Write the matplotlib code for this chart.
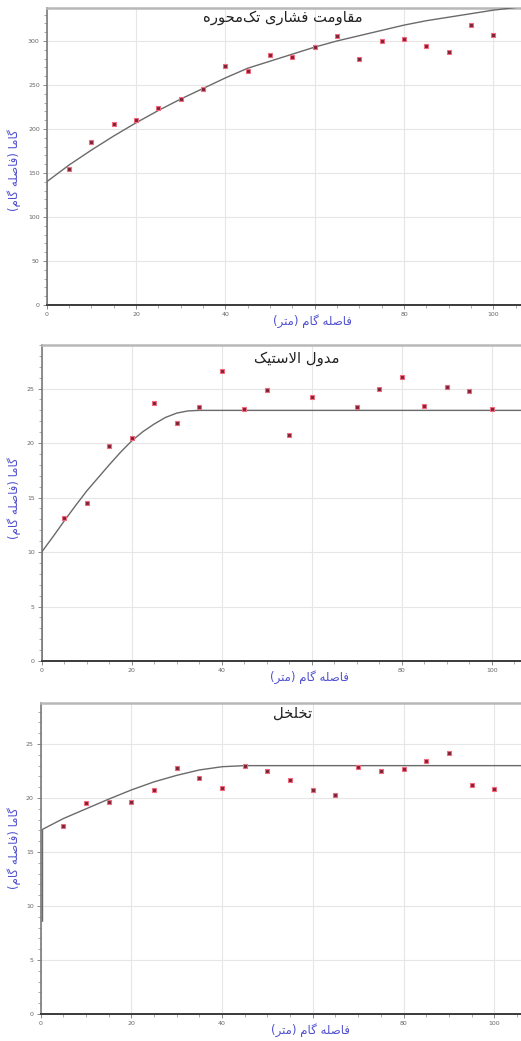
import numpy as np
import matplotlib
matplotlib.use("Agg")
from matplotlib import pyplot as plt
from matplotlib.ticker import MultipleLocator

# lag distances of the experimental points
lags = [5, 10, 15, 20, 25, 30, 35, 40, 45, 50, 55, 60, 65, 70, 75, 80, 85, 90, 95, 100]
xticks = [0, 20, 40, 60, 80, 100]
# the "60" label sits under the axis title in the original, so it is not shown
xticklabels = ["0", "20", "40", "", "80", "100"]

# uniaxial compressive strength
ucs_gamma = [154, 185, 206, 210, 224, 234, 245, 271, 266, 284, 282, 293, 306, 279,
             300, 302, 294, 287, 318, 307]
ucs_fit_x = [0, 0, 5, 10, 15, 20, 25, 30, 35, 40, 45, 50, 55, 60, 65, 70, 75, 80,
             85, 90, 95, 100, 105, 110]
ucs_fit_y = [0, 140, 159, 176, 192, 207, 221, 234, 246, 258, 269, 277, 285, 293, 300,
             306, 312, 318, 323, 327, 331, 335, 338, 341]

# elastic modulus (no point at lag 65)
em_lags = [5, 10, 15, 20, 25, 30, 35, 40, 45, 50, 55, 60, 70, 75, 80, 85, 90, 95, 100]
em_gamma = [13.1, 14.5, 19.7, 20.5, 23.7, 21.8, 23.3, 26.6, 23.1, 24.9, 20.7, 24.2,
            23.3, 25.0, 26.1, 23.4, 25.1, 24.8, 23.1]
em_fit_x = [0, 0, 2.5, 5, 7.5, 10, 12.5, 15, 17.5, 20, 22.5, 25, 27.5, 30, 32.5, 35, 120]
em_fit_y = [0, 10, 11.4, 12.85, 14.25, 15.6, 16.8, 18.0, 19.15, 20.2, 21.05, 21.75,
            22.35, 22.75, 22.95, 23.0, 23.0]

# porosity
por_gamma = [17.4, 19.5, 19.6, 19.6, 20.7, 22.8, 21.9, 20.9, 23.0, 22.5, 21.7, 20.75,
             20.3, 22.9, 22.5, 22.7, 23.4, 24.2, 21.2, 20.8]
por_fit_x = [0.4, 0.4, 5, 10, 15, 20, 25, 30, 35, 40, 45, 120]
por_fit_y = [8.6, 17.1, 18.1, 19.0, 19.9, 20.75, 21.5, 22.1, 22.6, 22.9, 23.0, 23.0]

titles = ["مقاومت فشاری تک‌محوره", "مدول الاستیک", "تخلخل"]
xlabel = "فاصله گام (متر)"
ylabel = "گاما (فاصله گام)"

# --- minimal Persian shaping (matplotlib has no RTL / joining support) ---
FORMS = {
    "ا": ("\uFE8D", "\uFE8E", None, None),
    "د": ("\uFEA9", "\uFEAA", None, None),
    "ر": ("\uFEAD", "\uFEAE", None, None),
    "و": ("\uFEED", "\uFEEE", None, None),
    "ت": ("\uFE95", "\uFE96", "\uFE97", "\uFE98"),
    "ح": ("\uFEA1", "\uFEA2", "\uFEA3", "\uFEA4"),
    "خ": ("\uFEA5", "\uFEA6", "\uFEA7", "\uFEA8"),
    "س": ("\uFEB1", "\uFEB2", "\uFEB3", "\uFEB4"),
    "ش": ("\uFEB5", "\uFEB6", "\uFEB7", "\uFEB8"),
    "ص": ("\uFEB9", "\uFEBA", "\uFEBB", "\uFEBC"),
    "ف": ("\uFED1", "\uFED2", "\uFED3", "\uFED4"),
    "ق": ("\uFED5", "\uFED6", "\uFED7", "\uFED8"),
    "ل": ("\uFEDD", "\uFEDE", "\uFEDF", "\uFEE0"),
    "م": ("\uFEE1", "\uFEE2", "\uFEE3", "\uFEE4"),
    "ه": ("\uFEE9", "\uFEEA", "\uFEEB", "\uFEEC"),
    "ک": ("\uFB8E", "\uFB8F", "\uFB90", "\uFB91"),
    "گ": ("\uFB92", "\uFB93", "\uFB94", "\uFB95"),
    "ی": ("\uFBFC", "\uFBFD", "\uFBFE", "\uFBFF"),
}


def fa(text):
    out = []
    i = 0
    while i < len(text):
        c = text[i]
        if c not in FORMS:
            if c != "\u200c":
                out.append(c)
            i += 1
            continue
        prev = text[i - 1] if i > 0 else ""
        joins_prev = prev in FORMS and FORMS[prev][2] is not None
        nxt = text[i + 1] if i + 1 < len(text) else ""
        if c == "ل" and nxt == "ا":
            out.append("\uFEFC" if joins_prev else "\uFEFB")
            i += 2
            continue
        joins_next = FORMS[c][2] is not None and nxt in FORMS
        iso, fin, ini, med = FORMS[c]
        if joins_prev and joins_next:
            out.append(med)
        elif joins_prev:
            out.append(fin)
        elif joins_next:
            out.append(ini)
        else:
            out.append(iso)
        i += 1
    swap = {"(": ")", ")": "("}
    return "".join(swap.get(ch, ch) for ch in reversed(out))


plt.rcParams["font.family"] = ["DejaVu Sans"]

W, H = 521, 1041
fig = plt.figure(figsize=(W / 100, H / 100), dpi=100)

# (left px, top px, bottom px, px per x unit, ymax, title x, title y, ylabel y)
panels = [
    (46.7, 7.5, 305, 4.467, 338, 0.441, 0.965, 0.454),
    (41.7, 345, 661, 4.5, 29.0, 0.473, 0.956, 0.516),
    (40.7, 703, 1014, 4.535, 28.8, 0.462, 0.968, 0.534),
]
xmax = 120
series = [
    (lags, ucs_gamma, ucs_fit_x, ucs_fit_y, 50, 10),
    (em_lags, em_gamma, em_fit_x, em_fit_y, 5, 1),
    (lags, por_gamma, por_fit_x, por_fit_y, 5, 1),
]

for k, (left, top, bottom, sx, ymax, tx, ty, yly) in enumerate(panels):
    width = sx * xmax
    ax = fig.add_axes([left / W, 1 - bottom / H, width / W, (bottom - top) / H])
    px, py, fx, fy, ymaj, ymin = series[k]

    ax.plot(fx, fy, color="#6a6a6a", lw=1.0, zorder=3)
    ax.plot(px, py, ls="none", marker="s", ms=3.2, mfc="#7a2432",
            mec="#f06a80", mew=0.8, zorder=4)

    ax.set_xlim(0, xmax)
    ax.set_ylim(0, ymax)
    ax.set_xticks(xticks)
    ax.set_xticklabels(xticklabels)
    ax.xaxis.set_minor_locator(MultipleLocator(5))
    ax.yaxis.set_major_locator(MultipleLocator(ymaj))
    ax.yaxis.set_minor_locator(MultipleLocator(ymin))
    ax.grid(True, which="major", color="#e6e6e6", lw=0.8)
    ax.set_axisbelow(True)
    ax.tick_params(which="major", length=3, width=0.6, color="#777777",
                   labelsize=4.5, labelcolor="#666666", pad=2)
    ax.tick_params(which="minor", length=2, width=0.5, color="#888888")

    ax.spines["right"].set_visible(False)
    ax.spines["top"].set_color("#b8b8b8")
    ax.spines["top"].set_linewidth(1.8)
    ax.spines["left"].set_color("#7a7a7a")
    ax.spines["left"].set_linewidth(1.2)
    ax.spines["bottom"].set_color("#3a3a3a")
    ax.spines["bottom"].set_linewidth(1.4)

    ax.text(tx, ty, fa(titles[k]), transform=ax.transAxes, ha="center",
            va="center", fontsize=10.6, color="#222222")
    ax.set_xlabel(fa(xlabel), fontsize=8.5, color="#5050d0")
    ax.xaxis.set_label_coords(0.495, -9.0 / (bottom - top))
    ax.set_ylabel(fa(ylabel), fontsize=8.5, color="#5050d0")
    ax.yaxis.set_label_coords(-(left - 21) / width, yly)

fig.savefig("out.png", dpi=100)
